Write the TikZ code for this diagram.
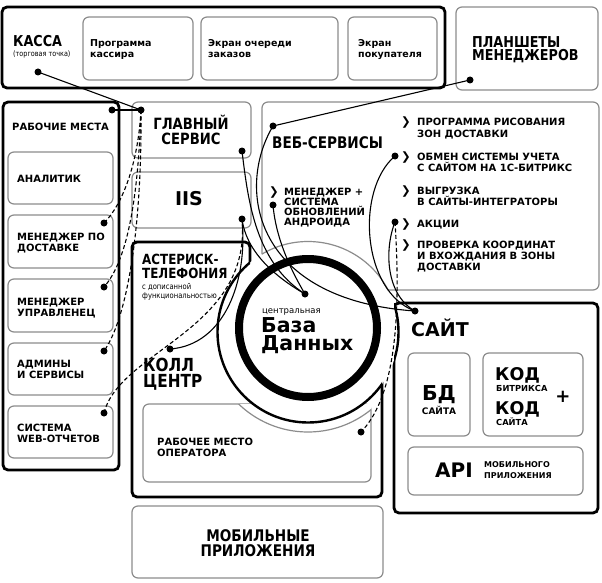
\documentclass[tikz,border=0pt]{standalone}
\usepackage{fontspec}
\setmainfont{DejaVu Sans}
\newfontfamily\nrw{DejaVu Sans}[FakeStretch=0.85]
\usetikzlibrary{fit}
\definecolor{bgray}{gray}{0.55}
\begin{document}
\begin{tikzpicture}[x=1pt,y=-1pt,
  gbox/.style={draw=bgray, line width=1.2pt, rounded corners=6pt, inner sep=0pt},
  kbox/.style={draw=black, line width=2.8pt, rounded corners=5pt, inner sep=0pt},
  dot/.style={circle, fill=black, inner sep=0pt, minimum size=7pt},
  conn/.style={line width=1.1pt},
  dconn/.style={line width=1.1pt, dash pattern=on 4pt off 2.5pt},
  txt/.style={anchor=base west, inner sep=0pt, align=left},
  ctxt/.style={anchor=base, inner sep=0pt, align=center},
  chev/.style={anchor=base west, inner sep=0pt, font=\fontsize{11.5}{11.5}\selectfont\bfseries},
  small/.style={font=\fontsize{10}{11}\selectfont\bfseries}
]
\useasboundingbox (0,0) rectangle (602,583);
\fill[white] (0,0) rectangle (602,583);

% ---------- boxes ----------
\node[kbox, fit={(2,7)(445,88)}] (kassa) {};
\node[gbox, fit={(83,17)(193,80)}] (prog) {};
\node[gbox, fit={(201,17)(338,80)}] (ocher) {};
\node[gbox, fit={(348,17)(437,80)}] (pokup) {};
\node[gbox, fit={(456,7)(598,90)}] (plan) {};

\node[kbox, fit={(3,102)(119,470)}] (rab) {};
\node[gbox, fit={(8,152)(113,204)}] (anal) {};
\node[gbox, fit={(8,215)(113,268)}] (dost) {};
\node[gbox, fit={(8,279)(113,332)}] (upr) {};
\node[gbox, fit={(8,343)(113,395)}] (adm) {};
\node[gbox, fit={(8,406)(113,458)}] (sys) {};

\node[gbox, fit={(132,102)(251,158)}] (glav) {};
\node[gbox, fit={(132,172)(251,228)}] (iis) {};
\node[gbox, fit={(262,102)(599,290)}] (web) {};

\draw[kbox] (132,242) -- (250,242) -- (250,330) -- (382,330) -- (382,497) -- (132,497) -- cycle;
\node[gbox, fit={(143,404)(371,482)}] (oper) {};
\node[gbox, fit={(132,506)(383,578)}] (mob) {};

\node[kbox, fit={(394,303)(598,513)}] (sait) {};
\node[gbox, fit={(408,353)(470,436)}] (bd) {};
\node[gbox, fit={(483,353)(583,436)}] (kod) {};
\node[gbox, fit={(408,447)(583,495)}] (api) {};

% ---------- circle cut-outs ----------
\begin{scope}
  \clip (143,404) rectangle (371,482);
  \fill[white] (308,332) circle[radius=100];
  \draw[bgray, line width=1.2pt] (308,332) circle[radius=100];
\end{scope}
\fill[white] (308,332) circle[radius=90.5];
\begin{scope}
  \clip (132,242) -- (250,242) -- (250,330) -- (382,330) -- (382,497) -- (132,497) -- cycle;
  \draw[line width=2.4pt] (308,332) circle[radius=90.5];
\end{scope}
\begin{scope}
  \clip (262,102) rectangle (599,290);
  \draw[bgray, line width=1.2pt] (308,332) circle[radius=90.5];
\end{scope}
\begin{scope}
  \clip (394,303) rectangle (598,513);
  \draw[line width=2.4pt] (308,332) circle[radius=90.5];
\end{scope}
\draw[line width=8pt] (308,328) circle[radius=69];

% ---------- texts (multi-line: coordinate = last baseline) ----------
\node[txt, font=\nrw\fontsize{15}{15}\selectfont\bfseries] (tKassa) at (13,47) {КАССА};
\node[txt, font=\nrw\fontsize{7.6}{7.6}\selectfont] (tTorg) at (13,57) {(торговая точка)};
\node[txt, font=\fontsize{9.5}{10.5}\selectfont\bfseries] (tProg) at (90,57.5) {Программа\\кассира};
\node[txt, font=\fontsize{9.5}{10.5}\selectfont\bfseries] (tOcher) at (208,57.5) {Экран очереди\\заказов};
\node[txt, font=\fontsize{9.5}{10.5}\selectfont\bfseries] (tPokup) at (358,57.5) {Экран\\покупателя};
\node[txt, font=\nrw\fontsize{15}{13}\selectfont\bfseries] (tPlan) at (472,61) {ПЛАНШЕТЫ\\МЕНЕДЖЕРОВ};

\node[txt, small] (tRab) at (12,130.5) {РАБОЧИЕ МЕСТА};
\node[txt, small] (tAnal) at (17,182) {АНАЛИТИК};
\node[txt, small] (tDost) at (17,251) {МЕНЕДЖЕР ПО\\ДОСТАВКЕ};
\node[txt, small] (tUpr) at (17,316) {МЕНЕДЖЕР\\УПРАВЛЕНЕЦ};
\node[txt, small] (tAdm) at (17,378.5) {АДМИНЫ\\И СЕРВИСЫ};
\node[txt, small] (tSys) at (17,442) {СИСТЕМА\\WEB-ОТЧЕТОВ};

\node[ctxt, font=\nrw\fontsize{15.5}{15}\selectfont\bfseries] (tGlav) at (191,144) {ГЛАВНЫЙ\\СЕРВИС};
\node[ctxt, font=\fontsize{19}{19}\selectfont\bfseries] (tIIS) at (189,205) {IIS};

\node[txt, font=\nrw\fontsize{16}{16}\selectfont\bfseries] (tWeb) at (272,148) {ВЕБ-СЕРВИСЫ};
\node[chev] (c0) at (269,195) {❯};
\node[txt, font=\fontsize{10}{10}\selectfont\bfseries] (tMgr) at (284,225) {МЕНЕДЖЕР +\\СИСТЕМА\\ОБНОВЛЕНИЙ\\АНДРОИДА};
\node[chev] (c1) at (401,126) {❯};
\node[txt, small] (tB1) at (417,137) {ПРОГРАММА РИСОВАНИЯ\\ЗОН ДОСТАВКИ};
\node[chev] (c2) at (401,160) {❯};
\node[txt, small] (tB2) at (417,171) {ОБМЕН СИСТЕМЫ УЧЕТА\\С САЙТОМ НА 1С-БИТРИКС};
\node[chev] (c3) at (401,194) {❯};
\node[txt, small] (tB3) at (417,205) {ВЫГРУЗКА\\В САЙТЫ-ИНТЕГРАТОРЫ};
\node[chev] (c4) at (401,227) {❯};
\node[txt, small] (tB4) at (417,227) {АКЦИИ};
\node[chev] (c5) at (401,248) {❯};
\node[txt, small] (tB5) at (417,270) {ПРОВЕРКА КООРДИНАТ\\И ВХОЖДАНИЯ В ЗОНЫ\\ДОСТАВКИ};

\node[txt, font=\nrw\fontsize{14}{14.5}\selectfont\bfseries] (tAst) at (142,278.5) {АСТЕРИСК-\\ТЕЛЕФОНИЯ};
\node[txt, font=\nrw\fontsize{8}{9}\selectfont] (tDop) at (142,298) {с дописанной\\функциональностью};
\node[txt, font=\nrw\fontsize{18}{15.5}\selectfont\bfseries] (tKoll) at (143,387) {КОЛЛ\\ЦЕНТР};
\node[txt, small] (tOper) at (157,456) {РАБОЧЕЕ МЕСТО\\ОПЕРАТОРА};
\node[ctxt, font=\nrw\fontsize{16}{15}\selectfont\bfseries] (tMob) at (258,556) {МОБИЛЬНЫЕ\\ПРИЛОЖЕНИЯ};

\node[txt, font=\fontsize{8.5}{8.5}\selectfont] (tCent) at (262,313) {центральная};
\node[txt, font=\fontsize{20.5}{18.5}\selectfont\bfseries] (tDB) at (261,350.5) {База\\Данных};

\node[txt, font=\fontsize{19}{19}\selectfont\bfseries] (tSait) at (411,336) {САЙТ};
\node[ctxt, font=\fontsize{20.5}{20.5}\selectfont\bfseries] (tBD) at (439,400) {БД};
\node[ctxt, font=\fontsize{9}{9}\selectfont\bfseries] (tBDs) at (439,414) {САЙТА};
\node[txt, font=\fontsize{17.5}{17.5}\selectfont\bfseries] (tKod1) at (495,380) {КОД};
\node[txt, font=\fontsize{8.3}{8.3}\selectfont\bfseries] (tBitr) at (496,391) {БИТРИКСА};
\node[txt, font=\fontsize{17.5}{17.5}\selectfont\bfseries] (tKod2) at (495,414) {КОД};
\node[txt, font=\fontsize{8.3}{8.3}\selectfont\bfseries] (tKods) at (496,425) {САЙТА};
\node[ctxt, font=\fontsize{18}{18}\selectfont\bfseries] (tPlus) at (563,402) {+};
\node[txt, font=\fontsize{20}{20}\selectfont\bfseries] (tAPI) at (435,477) {API};
\node[txt, font=\fontsize{8}{11}\selectfont\bfseries] (tMobApi) at (484,478) {МОБИЛЬНОГО\\ПРИЛОЖЕНИЯ};

% ---------- dots ----------
\node[dot] (dKassa) at (38,72) {};
\node[dot] (dRab) at (112,110) {};
\node[dot] (dGlav1) at (141,110) {};
\node[dot] (dGlav2) at (242,151) {};
\node[dot] (dIIS) at (242,219) {};
\node[dot] (dPlan) at (470,80) {};
\node[dot] (dWeb) at (273,126) {};
\node[dot] (dMgr) at (273,205) {};
\node[dot] (dObmen) at (395,156) {};
\node[dot] (dAkc) at (395,222) {};
\node[dot] (dDB) at (305,294) {};
\node[dot] (dSait) at (415,311) {};
\node[dot] (dDost) at (104,223) {};
\node[dot] (dUpr) at (104,287) {};
\node[dot] (dAdm) at (104,351) {};
\node[dot] (dSys) at (104,413) {};
\node[dot] (dKoll) at (170,349) {};
\node[dot] (dOper) at (361,432) {};

% ---------- connectors ----------
\draw[conn] (dKassa.center) -- (dGlav1.center);
\draw[conn] (dRab.center) -- (dGlav1.center);
\draw[conn] (dPlan.center) -- (dWeb.center);
\draw[conn] (dGlav2.center) .. controls (248,200) and (255,262) .. (dDB.center);
\draw[conn] (dIIS.center) .. controls (246,250) and (272,275) .. (dDB.center);
\draw[conn] (dWeb.center) .. controls (235,190) and (255,300) .. (dSait.center);
\draw[conn] (dMgr.center) .. controls (276,240) and (292,272) .. (dDB.center);
\draw[conn] (dObmen.center) .. controls (355,190) and (362,292) .. (dSait.center);
\draw[conn] (dAkc.center) .. controls (384,250) and (386,295) .. (dSait.center);
\draw[conn] (dKoll.center) .. controls (225,345) and (248,280) .. (dIIS.center);

\draw[dconn] (dGlav1.center) .. controls (138,165) and (122,205) .. (dDost.center);
\draw[dconn] (dGlav1.center) .. controls (138,205) and (126,262) .. (dUpr.center);
\draw[dconn] (dGlav1.center) .. controls (142,235) and (126,320) .. (dAdm.center);
\draw[dconn] (dSys.center) .. controls (120,350) and (252,330) .. (dIIS.center);
\draw[dconn] (dAkc.center) .. controls (402,330) and (392,400) .. (dOper.center);
\end{tikzpicture}
\end{document}
